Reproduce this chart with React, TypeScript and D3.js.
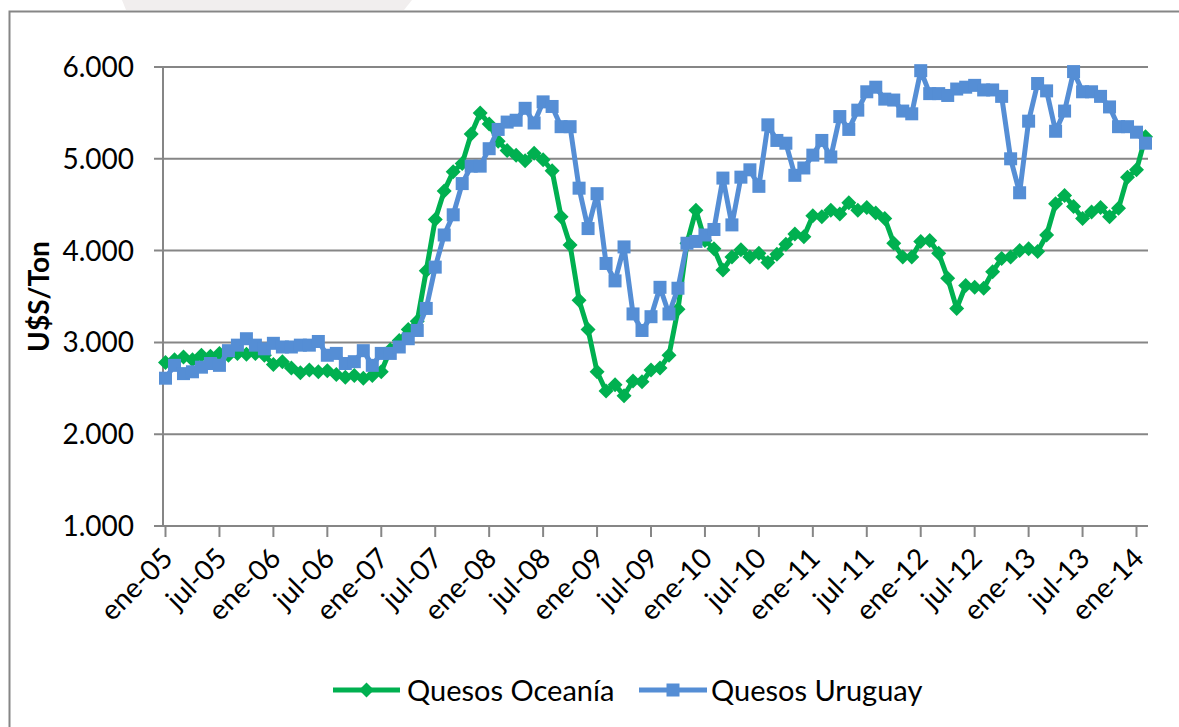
import React from "react";
import * as d3 from "d3";

const tickLabels = [
  "ene-05", "jul-05", "ene-06", "jul-06", "ene-07", "jul-07", "ene-08", "jul-08", "ene-09", "jul-09",
  "ene-10", "jul-10", "ene-11", "jul-11", "ene-12", "jul-12", "ene-13", "jul-13", "ene-14",
];

const categories = [
  "ene-05","feb-05","mar-05","abr-05","may-05","jun-05","jul-05","ago-05","sep-05","oct-05","nov-05","dic-05",
  "ene-06","feb-06","mar-06","abr-06","may-06","jun-06","jul-06","ago-06","sep-06","oct-06","nov-06","dic-06",
  "ene-07","feb-07","mar-07","abr-07","may-07","jun-07","jul-07","ago-07","sep-07","oct-07","nov-07","dic-07",
  "ene-08","feb-08","mar-08","abr-08","may-08","jun-08","jul-08","ago-08","sep-08","oct-08","nov-08","dic-08",
  "ene-09","feb-09","mar-09","abr-09","may-09","jun-09","jul-09","ago-09","sep-09","oct-09","nov-09","dic-09",
  "ene-10","feb-10","mar-10","abr-10","may-10","jun-10","jul-10","ago-10","sep-10","oct-10","nov-10","dic-10",
  "ene-11","feb-11","mar-11","abr-11","may-11","jun-11","jul-11","ago-11","sep-11","oct-11","nov-11","dic-11",
  "ene-12","feb-12","mar-12","abr-12","may-12","jun-12","jul-12","ago-12","sep-12","oct-12","nov-12","dic-12",
  "ene-13","feb-13","mar-13","abr-13","may-13","jun-13","jul-13","ago-13","sep-13","oct-13","nov-13","dic-13",
  "ene-14","feb-14",
];

const quesosOceania = [
  2780, 2810, 2840, 2810, 2860, 2850, 2880, 2860, 2880, 2870, 2880, 2860,
  2760, 2790, 2720, 2670, 2700, 2680, 2690, 2650, 2620, 2640, 2610, 2640,
  2680, 2920, 3020, 3140, 3230, 3780, 4340, 4650, 4860, 4950, 5270, 5500,
  5380, 5190, 5090, 5040, 4980, 5060, 4990, 4870, 4370, 4060, 3460, 3140,
  2680, 2470, 2540, 2420, 2580, 2570, 2700, 2720, 2860, 3360, 4080, 4440,
  4110, 4020, 3790, 3930, 4010, 3930, 3970, 3870, 3960, 4070, 4180, 4150,
  4380, 4370, 4440, 4400, 4520, 4440, 4470, 4410, 4350, 4080, 3930, 3930,
  4100, 4110, 3970, 3700, 3370, 3620, 3600, 3590, 3770, 3915, 3930, 4000,
  4020, 3990, 4170, 4510, 4600, 4480, 4350, 4420, 4470, 4370, 4460, 4800,
  4880, 5240,
];

const quesosUruguay = [
  2610, 2750, 2660, 2680, 2730, 2770, 2750, 2910, 2970, 3040, 2970, 2930,
  2990, 2950, 2950, 2970, 2970, 3010, 2860, 2880, 2770, 2790, 2910, 2750,
  2880, 2880, 2950, 3040, 3130, 3370, 3820, 4170, 4390, 4730, 4920, 4920,
  5110, 5320, 5400, 5420, 5550, 5390, 5620, 5570, 5350, 5350, 4680, 4240,
  4620, 3860, 3670, 4040, 3310, 3130, 3280, 3600, 3310, 3590, 4080, 4100,
  4170, 4230, 4790, 4280, 4800, 4880, 4700, 5370, 5200, 5170, 4820, 4900,
  5040, 5200, 5020, 5460, 5320, 5530, 5730, 5780, 5650, 5640, 5520, 5490,
  5960, 5710, 5710, 5690, 5760, 5780, 5800, 5750, 5750, 5680, 5000, 4630,
  5410, 5820, 5740, 5300, 5520, 5950, 5730, 5730, 5680, 5565, 5350, 5350,
  5290, 5170,
];

const yTicks = [1000, 2000, 3000, 4000, 5000, 6000];
const seriesNames = ["Quesos Oceanía", "Quesos Uruguay"];

const GREEN = "#00B050";
const BLUE = "#558ED5";
const GRID = "#868686";
const FONT = "Lato, 'Open Sans', sans-serif";

export default function App() {
  const W = 1179;
  const H = 727;
  const plotLeft = 163;
  const plotRight = 1148;
  const x = d3.scaleLinear().domain([0, categories.length - 1]).range([165.5, 1145.5]);
  const y = d3.scaleLinear().domain([1000, 6000]).range([526, 67]);
  const line = d3
    .line<number>()
    .x((_, i) => x(i))
    .y((d) => y(d));

  const fmt = (v: number) => d3.format(",")(v).replace(/,/g, ".");

  const diamond = (cx: number, cy: number, r: number) =>
    `M${cx},${cy - r}L${cx + r},${cy}L${cx},${cy + r}L${cx - r},${cy}Z`;

  const tickIdx = tickLabels.map((lab) => categories.indexOf(lab));

  return (
    <svg
      width={W}
      height={H}
      style={{ position: "fixed", left: 0, top: 0, background: "#fff" }}
      fontFamily={FONT}
    >
      <rect x={0} y={0} width={W} height={H} fill="#fff" />
      {/* faint decoration above the frame */}
      <path d="M122,0L412,0L404,10L126,10Z" fill="#f1eeee" />
      {/* frame */}
      <path d={`M${W},11.5L9.5,11.5L9.5,${H}`} fill="none" stroke={GRID} strokeWidth={2} />

      {/* gridlines */}
      {yTicks.map((t) => (
        <line key={t} x1={154} x2={plotRight} y1={y(t)} y2={y(t)} stroke={GRID} strokeWidth={2} />
      ))}
      {/* y axis */}
      <line x1={plotLeft} x2={plotLeft} y1={y(6000)} y2={y(1000)} stroke={GRID} strokeWidth={2} />
      {/* x ticks */}
      {tickIdx.map((i) => (
        <line key={i} x1={x(i)} x2={x(i)} y1={y(1000)} y2={y(1000) + 11} stroke={GRID} strokeWidth={2} />
      ))}

      {/* y tick labels */}
      {yTicks.map((t) => (
        <text key={t} x={134} y={y(t) + 10} textAnchor="end" fontSize={28} fill="#000">
          {fmt(t)}
        </text>
      ))}

      {/* x tick labels */}
      {tickIdx.map((i, k) => (
        <text
          key={i}
          transform={`translate(${x(i) + 9},${y(1000) + 34}) rotate(-45)`}
          textAnchor="end"
          fontSize={28}
          fill="#000"
        >
          {tickLabels[k]}
        </text>
      ))}

      {/* y axis title */}
      <text
        transform={`translate(49,${(y(6000) + y(1000)) / 2}) rotate(-90)`}
        textAnchor="middle"
        fontSize={28}
        fontWeight="bold"
        fill="#000"
      >
        U$S/Ton
      </text>

      {/* series: Oceania */}
      <path d={line(quesosOceania) || ""} fill="none" stroke={GREEN} strokeWidth={5} strokeLinejoin="round" />
      {quesosOceania.map((v, i) => (
        <path key={"o" + i} d={diamond(x(i), y(v), 7.5)} fill={GREEN} />
      ))}
      {/* series: Uruguay */}
      <path d={line(quesosUruguay) || ""} fill="none" stroke={BLUE} strokeWidth={5} strokeLinejoin="round" />
      {quesosUruguay.map((v, i) => (
        <rect key={"u" + i} x={x(i) - 6.5} y={y(v) - 6.5} width={13} height={13} fill={BLUE} />
      ))}

      {/* legend */}
      <g>
        <line x1={333} x2={400} y1={690} y2={690} stroke={GREEN} strokeWidth={5} />
        <path d={diamond(366.5, 690, 7.5)} fill={GREEN} />
        <text x={407} y={701} fontSize={29} fill="#000">
          {seriesNames[0]}
        </text>
        <line x1={639} x2={707} y1={690} y2={690} stroke={BLUE} strokeWidth={5} />
        <rect x={666.5} y={683.5} width={13} height={13} fill={BLUE} />
        <text x={711} y={701} fontSize={29} fill="#000">
          {seriesNames[1]}
        </text>
      </g>
    </svg>
  );
}
